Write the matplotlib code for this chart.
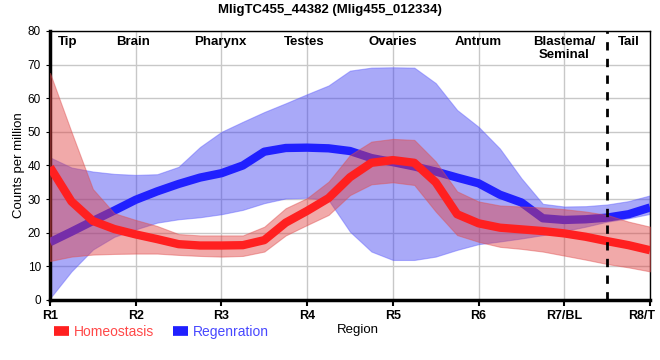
import numpy as np
import matplotlib.pyplot as plt
from matplotlib.lines import Line2D
from matplotlib.transforms import ScaledTranslation

plt.rcParams['font.family'] = ['Liberation Sans', 'DejaVu Sans']

# posiciones leídas cada 0.25 región
pos = np.arange(1, 8.01, 0.25)

homeo = [39.5, 29.3, 23.5, 21.1, 19.5, 18.1, 16.6, 16.2, 16.2, 16.3, 17.8, 23.0, 26.5, 30.3, 36.5,
         40.8, 41.6, 40.8, 35.0, 25.5, 22.8, 21.5, 21.0, 20.5, 19.8, 18.8, 17.5, 16.3, 14.8]
homeo_hi = [67.5, 50.0, 33.0, 25.8, 23.8, 22.0, 19.6, 19.2, 19.2, 19.2, 21.8, 27.3, 30.3, 35.2, 43.1,
            47.1, 47.9, 47.6, 41.2, 32.3, 29.3, 28.1, 27.8, 27.5, 27.0, 26.3, 25.3, 23.3, 21.8]
homeo_lo = [11.6, 12.9, 13.5, 13.7, 13.8, 13.8, 13.4, 13.1, 12.9, 13.1, 14.4, 19.2, 22.3, 25.3, 31.2,
            34.4, 35.0, 34.2, 26.3, 19.3, 17.3, 15.8, 15.2, 14.4, 13.2, 12.0, 10.7, 9.7, 8.5]

regen = [17.2, 20.3, 23.5, 26.6, 29.8, 32.3, 34.5, 36.4, 37.7, 40.0, 44.1, 45.2, 45.3, 45.1, 44.3,
         42.2, 41.0, 39.7, 38.2, 36.4, 34.7, 31.3, 29.0, 24.3, 23.8, 24.0, 24.5, 25.5, 27.5]
regen_hi = [42.4, 39.4, 38.2, 37.5, 37.2, 37.4, 39.6, 45.5, 50.0, 53.0, 55.9, 58.5, 61.2, 63.8, 68.2,
            69.1, 69.2, 69.1, 64.5, 56.5, 51.5, 45.0, 36.2, 28.6, 27.8, 27.9, 28.4, 29.4, 31.1]
regen_lo = [0.5, 8.5, 15.0, 18.8, 21.0, 23.0, 24.0, 24.6, 25.5, 26.8, 28.8, 30.2, 30.4, 29.7, 20.3,
            14.4, 11.9, 11.9, 12.9, 14.9, 16.6, 17.4, 18.3, 19.3, 20.5, 21.8, 23.3, 24.3, 25.6]

tick_labels = ["R1", "R2", "R3", "R4", "R5", "R6", "R7/BL", "R8/T"]
regions = ["Tip", "Brain", "Pharynx", "Testes", "Ovaries", "Antrum", "Blastema/\nSeminal", "Tail"]
region_x = [1.2, 1.97, 2.99, 3.97, 5.0, 6.0, 7.0, 7.75]

RED = "#ff2020"
BLUE = "#2020ff"

fig = plt.figure(figsize=(6.6, 3.6), dpi=100)
ax = fig.add_axes([0.0758, 0.1667, 0.909, 0.7473])

# Regeneración debajo, homeostasis encima
ax.fill_between(pos, regen_lo, regen_hi, color="#4040f0", alpha=0.45, lw=0.8, edgecolor="#6060ff", zorder=2)
ax.plot(pos, regen, color=BLUE, lw=6, solid_capstyle="butt", solid_joinstyle="round", zorder=3)
ax.fill_between(pos, homeo_lo, homeo_hi, color="#e04040", alpha=0.45, lw=0.8, edgecolor="#e05050", zorder=4)
ax.plot(pos, homeo, color=RED, lw=6, solid_capstyle="butt", solid_joinstyle="round", zorder=5)

ax.axvline(7.5, color="black", lw=2, linestyle=(0, (3, 3)), zorder=6)

ax.set_xlim(1, 8)
ax.set_ylim(0, 80)
ax.set_xticks(range(1, 9))
ax.set_xticklabels(tick_labels, fontweight="bold", fontsize=9)
ax.set_yticks(range(0, 81, 10))
ax.tick_params(axis="y", labelsize=8.5, length=3)
ax.tick_params(axis="x", length=4, width=1.5)
ax.grid(True, color="#c8c8c8", lw=1)
ax.set_axisbelow(True)

# la última etiqueta se acerca al borde para que no quede cortada
last = ax.get_xticklabels()[-1]
last.set_transform(last.get_transform() + ScaledTranslation(-0.08, 0, fig.dpi_scale_trans))

ax.spines["left"].set_linewidth(2.5)
ax.spines["bottom"].set_linewidth(2.5)
ax.spines["top"].set_linewidth(1)
ax.spines["right"].set_linewidth(1)

for name, xr in zip(regions, region_x):
    ax.text(xr, 78.5, name, ha="center", va="top", fontsize=9.5, fontweight="bold",
            linespacing=1.1, zorder=7)

ax.set_ylabel("Counts per million", fontsize=9.5, labelpad=2)
fig.text(0.542, 0.082, "Region", ha="center", va="center", fontsize=9.5)
fig.text(0.5, 0.972, "MligTC455_44382 (Mlig455_012334)", ha="center", va="center",
         fontsize=9.5, fontweight="bold")

handles = [Line2D([], [], color=RED, lw=7, solid_capstyle="butt"),
           Line2D([], [], color=BLUE, lw=7, solid_capstyle="butt")]
leg = ax.legend(handles, ["Homeostasis", "Regenration"], loc="center left",
                bbox_to_anchor=(-0.014, -0.12), ncol=2, frameon=False, fontsize=10,
                handlelength=1.1, handletextpad=0.35, columnspacing=1.3,
                labelcolor=["#ff4848", "#4848ff"])

fig.savefig("out.png", dpi=100)
